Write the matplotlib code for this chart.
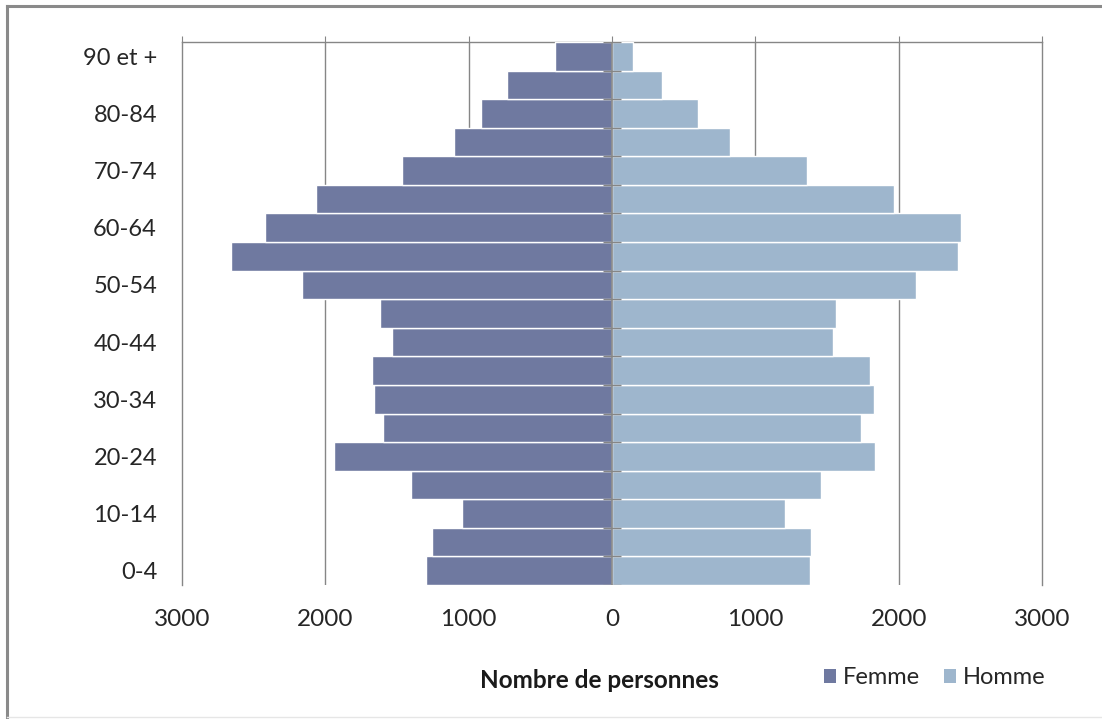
import matplotlib
matplotlib.use("Agg")
import matplotlib.pyplot as plt
from matplotlib.lines import Line2D
from matplotlib.patches import Patch
import numpy as np

age_groups = ["0-4", "5-9", "10-14", "15-19", "20-24", "25-29", "30-34", "35-39",
              "40-44", "45-49", "50-54", "55-59", "60-64", "65-69", "70-74",
              "75-79", "80-84", "85-89", "90 et +"]
femme = [1301, 1254, 1047, 1405, 1942, 1600, 1663, 1673, 1538, 1619,
         2165, 2656, 2423, 2066, 1468, 1101, 915, 736, 399]
homme = [1381, 1388, 1210, 1458, 1838, 1737, 1826, 1800, 1540, 1565,
         2119, 2416, 2432, 1970, 1361, 826, 603, 352, 145]
xticks = [-3000, -2000, -1000, 0, 1000, 2000, 3000]
xtick_labels = ["3000", "2000", "1000", "0", "1000", "2000", "3000"]

c_femme = "#6F79A0"
c_homme = "#9EB6CD"
grid_c = "#868686"
font = ["Lato", "DejaVu Sans"]
plt.rcParams["font.family"] = font

W, H = 1102, 719
fig = plt.figure(figsize=(W / 100, H / 100), dpi=100)
ax = fig.add_axes([182 / W, 1 - 585 / H, (1042 - 182) / W, (585 - 42) / H])

y = np.arange(len(age_groups))
ax.barh(y, [-v for v in femme], height=1.0, color=c_femme, edgecolor="white",
        linewidth=1.0, zorder=3)
ax.barh(y, homme, height=1.0, color=c_homme, edgecolor="white",
        linewidth=1.0, zorder=3)

ax.set_xlim(-3000, 3000)
ax.set_ylim(-0.5, len(age_groups) - 0.5)

# vertical gridlines
for g in [-2000, -1000, 1000, 2000]:
    ax.axvline(g, color=grid_c, linewidth=1.0, zorder=1)

# center axis with tick marks at category boundaries
ax.axvline(0, color=grid_c, linewidth=1.2, zorder=4)
tick_half = 9 / 143.4 * 1000
bounds = np.arange(-0.5, len(age_groups), 1.0)
ax.hlines(bounds, -tick_half, tick_half, color=grid_c, linewidth=1.0, zorder=4)

for side in ["left", "right", "top"]:
    ax.spines[side].set_color(grid_c)
    ax.spines[side].set_linewidth(1.0)
ax.spines["bottom"].set_visible(False)

ax.set_xticks(xticks)
ax.set_xticklabels(xtick_labels)
ax.tick_params(axis="x", top=True, bottom=False, labeltop=False, labelbottom=True,
               length=4, color=grid_c, direction="out", labelsize=17.5,
               labelcolor="#262626", pad=13)
ax.set_yticks(y[::2])
ax.set_yticklabels(age_groups[::2])
ax.tick_params(axis="y", length=0, labelsize=17, labelcolor="#262626", pad=18)

fig.text(599 / W, 1 - 681 / H, "Nombre de personnes", ha="center", va="center",
         fontsize=17.5, fontweight="bold", color="#1a1a1a")

handles = [Patch(facecolor=c_femme, label="Femme"), Patch(facecolor=c_homme, label="Homme")]
fig.legend(handles=handles, loc="center left", bbox_to_anchor=(803 / W, 1 - 678 / H),
           ncol=2, frameon=False, fontsize=17, handlelength=0.5, handleheight=0.5,
           handletextpad=0.3, columnspacing=1.0, labelcolor="#262626")

# figure frame
fig.add_artist(Line2D([7 / W, 7 / W], [0, 1 - 6 / H], color="#8a8a8a", linewidth=2.2,
                      transform=fig.transFigure))
fig.add_artist(Line2D([7 / W, 1], [1 - 6 / H, 1 - 6 / H], color="#8a8a8a", linewidth=2.2,
                      transform=fig.transFigure))
fig.add_artist(Line2D([7 / W, 1], [1 - 717 / H, 1 - 717 / H], color="#e6e6e6", linewidth=1.0,
                      transform=fig.transFigure))

fig.savefig("out.png", dpi=100)
